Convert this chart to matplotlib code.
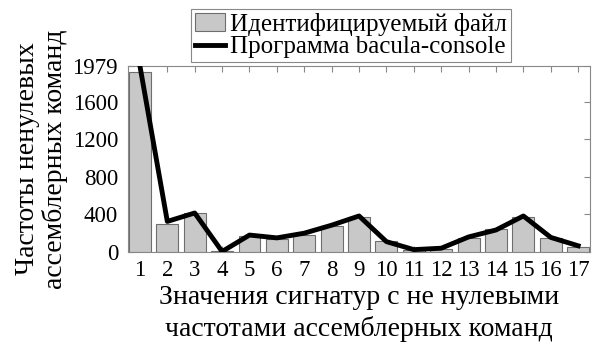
import numpy as np
import matplotlib.pyplot as plt

plt.rcParams['font.family'] = ['Liberation Serif', 'DejaVu Serif']

signatures = np.arange(1, 18)
# частоты для идентифицируемого файла (столбцы)
file_freq = [1920, 300, 410, 15, 170, 135, 180, 275, 375, 120, 20, 32, 150, 245, 375, 146, 48]
# частоты для программы bacula-console (линия)
bacula_freq = [1979, 325, 415, 5, 180, 150, 200, 285, 383, 110, 25, 40, 160, 234, 383, 155, 66]
yticks = [0, 400, 800, 1200, 1600, 1979]

fig = plt.figure(figsize=(5.92, 3.49), dpi=100)
ax = fig.add_axes([0.216, 0.278, 0.781, 0.533])

ax.bar(signatures, file_freq, width=0.8, color='#c8c8c8', edgecolor='#6e6e6e',
       linewidth=0.8, label='Идентифицируемый файл', zorder=2)
ax.plot(signatures, bacula_freq, color='black', linewidth=3.5,
        label='Программа bacula-console', zorder=3)

ax.set_xlim(0.56, 17.44)
ax.set_ylim(0, 1979)
ax.set_xticks(signatures)
ax.set_yticks(yticks)
ax.tick_params(direction='in', top=True, right=True, labelsize=16.5,
               color='#888888', length=4)
ax.tick_params(axis='x', pad=6)
ax.tick_params(axis='y', pad=7)
for s in ax.spines.values():
    s.set_color('#888888')
    s.set_linewidth(0.8)

ax.set_ylabel('Частоты ненулевых\nассемблерных команд', fontsize=20,
              linespacing=1.1, labelpad=3)
ax.set_xlabel('Значения сигнатур с не нулевыми\nчастотами ассемблерных команд',
              fontsize=20, linespacing=1.3, labelpad=3)

handles, labels = ax.get_legend_handles_labels()
leg = fig.legend(handles[::-1], labels[::-1], loc='lower center',
                 bbox_to_anchor=(0.593, 0.822),
                 bbox_transform=fig.transFigure, fontsize=18, frameon=True,
                 fancybox=False, edgecolor='#888888', framealpha=1,
                 handlelength=1.2, handletextpad=0.2, borderpad=0.15,
                 labelspacing=0.0, borderaxespad=0)
leg.get_frame().set_linewidth(0.8)

plt.savefig('out.png', dpi=100)
